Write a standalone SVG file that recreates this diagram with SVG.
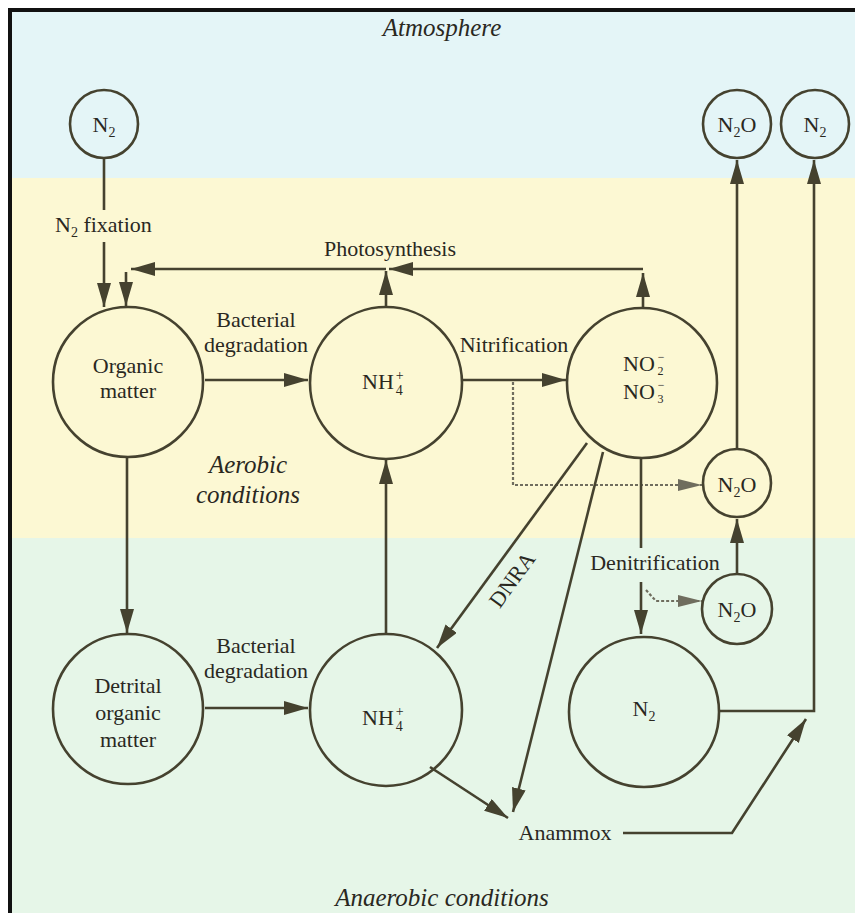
<svg xmlns="http://www.w3.org/2000/svg" width="855" height="913" viewBox="0 0 855 913">
<style>
.node{fill:none;stroke:#45422f;stroke-width:2.6}
.ln{fill:none;stroke:#45422f;stroke-width:2.6}
.dot{fill:none;stroke:#6f6d5e;stroke-width:2.2;stroke-dasharray:3 2}
text{font-family:"Liberation Serif","Times New Roman",serif;font-size:22px;fill:#2a281f}
.it{font-style:italic;font-size:25px}
.c{text-anchor:middle}
.sm{font-size:14px}
.xs{font-size:12px}
</style>
<defs>
<marker id="ah" markerUnits="userSpaceOnUse" markerWidth="26" markerHeight="16" refX="24" refY="7" orient="auto">
<path d="M0,0 L24,7 L0,14 z" fill="#45422f"/>
</marker>
<marker id="ahg" markerUnits="userSpaceOnUse" markerWidth="26" markerHeight="16" refX="24" refY="7" orient="auto">
<path d="M0,1 L24,7 L0,13 z" fill="#6f6d5e"/>
</marker>
</defs>
<!-- background bands -->
<rect x="0" y="0" width="855" height="913" fill="#ffffff"/>
<rect x="10" y="10" width="845" height="168" fill="#e4f5f7"/>
<rect x="10" y="178" width="845" height="360" fill="#fcf8d3"/>
<rect x="10" y="538" width="845" height="375" fill="#e6f6e8"/>
<path d="M10,913 V10 H855" fill="none" stroke="#111" stroke-width="4"/>
<text class="it c" x="442" y="36">Atmosphere</text>
<text class="it c" x="248" y="473">Aerobic</text>
<text class="it c" x="248" y="503">conditions</text>
<text class="it c" x="442" y="906">Anaerobic conditions</text>

<g id="connectors">
<line class="ln" x1="104" y1="158" x2="104" y2="210"/>
<line class="ln" x1="104" y1="242" x2="104" y2="307" marker-end="url(#ah)"/>
<line class="ln" x1="643" y1="307" x2="643" y2="273" marker-end="url(#ah)"/>
<line class="ln" x1="643" y1="269" x2="389" y2="269" marker-end="url(#ah)"/>
<line class="ln" x1="386" y1="307" x2="386" y2="271" marker-end="url(#ah)"/>
<line class="ln" x1="386" y1="269" x2="131" y2="269" marker-end="url(#ah)"/>
<line class="ln" x1="126" y1="272" x2="126" y2="306" marker-end="url(#ah)"/>
<line class="ln" x1="205" y1="380" x2="308" y2="380" marker-end="url(#ah)"/>
<line class="ln" x1="462" y1="380" x2="566" y2="380" marker-end="url(#ah)"/>
<path class="dot" d="M513,382 V485 H702" marker-end="url(#ahg)"/>
<line class="ln" x1="641" y1="458" x2="641" y2="548"/>
<line class="ln" x1="641" y1="582" x2="641" y2="634" marker-end="url(#ah)"/>
<path class="dot" d="M646,590 L656,601 H702" marker-end="url(#ahg)"/>
<line class="ln" x1="737" y1="574" x2="737" y2="519" marker-end="url(#ah)"/>
<line class="ln" x1="737" y1="449" x2="737" y2="160" marker-end="url(#ah)"/>
<path class="ln" d="M719,711 H814 V160" marker-end="url(#ah)"/>
<line class="ln" x1="587" y1="443" x2="437" y2="648" marker-end="url(#ah)"/>
<line class="ln" x1="603" y1="452" x2="513" y2="812" marker-end="url(#ah)"/>
<line class="ln" x1="430" y1="767" x2="508" y2="818" marker-end="url(#ah)"/>
<path class="ln" d="M623,833 H732 L806,719" marker-end="url(#ah)"/>
<line class="ln" x1="127" y1="458" x2="127" y2="633" marker-end="url(#ah)"/>
<line class="ln" x1="205" y1="708" x2="308" y2="708" marker-end="url(#ah)"/>
<line class="ln" x1="386" y1="634" x2="386" y2="460" marker-end="url(#ah)"/>
</g>

<g id="labels">
<text x="55" y="232">N<tspan class="sm" dy="5">2</tspan><tspan dy="-5"> fixation</tspan></text>
<text class="c" x="390" y="256">Photosynthesis</text>
<text class="c" x="256" y="327">Bacterial</text>
<text class="c" x="256" y="352">degradation</text>
<text class="c" x="514" y="352">Nitrification</text>
<text class="c" x="655" y="570">Denitrification</text>
<text class="c" x="0" y="0" transform="translate(518,584) rotate(-54)">DNRA</text>
<text class="c" x="256" y="653">Bacterial</text>
<text class="c" x="256" y="678">degradation</text>
<text class="c" x="565" y="840">Anammox</text>
</g>

<g id="n2-atm">
<circle class="node" cx="104" cy="124" r="34"/>
<text class="c" x="104" y="132">N<tspan class="sm" dy="5">2</tspan></text>
</g>
<g id="n2o-atm">
<circle class="node" cx="737" cy="124" r="34"/>
<text class="c" x="737" y="132">N<tspan class="sm" dy="5">2</tspan><tspan dy="-5">O</tspan></text>
</g>
<g id="n2-atm-2">
<circle class="node" cx="815" cy="124" r="34"/>
<text class="c" x="815" y="132">N<tspan class="sm" dy="5">2</tspan></text>
</g>
<g id="organic-matter">
<circle class="node" cx="128" cy="382" r="75"/>
<text class="c" x="128" y="373">Organic</text>
<text class="c" x="128" y="398">matter</text>
</g>
<g id="nh4-aerobic">
<circle class="node" cx="386" cy="383" r="76"/>
<text x="362" y="389">NH<tspan class="sm" dx="2" dy="-9">+</tspan><tspan class="sm" dx="-8" dy="15">4</tspan></text>
</g>
<g id="no2-no3">
<circle class="node" cx="642" cy="383" r="75"/>
<text x="623" y="371">NO<tspan class="xs" dx="3" dy="-10">−</tspan><tspan class="xs" dx="-7" dy="14">2</tspan></text>
<text x="623" y="399">NO<tspan class="xs" dx="3" dy="-10">−</tspan><tspan class="xs" dx="-7" dy="14">3</tspan></text>
</g>
<g id="n2o-aerobic">
<circle class="node" cx="737" cy="483" r="34"/>
<text class="c" x="737" y="492">N<tspan class="sm" dy="5">2</tspan><tspan dy="-5">O</tspan></text>
</g>
<g id="n2o-anaerobic">
<circle class="node" cx="737" cy="609" r="35"/>
<text class="c" x="737" y="617">N<tspan class="sm" dy="5">2</tspan><tspan dy="-5">O</tspan></text>
</g>
<g id="detrital-organic-matter">
<circle class="node" cx="128" cy="709" r="75"/>
<text class="c" x="128" y="693">Detrital</text>
<text class="c" x="128" y="720">organic</text>
<text class="c" x="128" y="747">matter</text>
</g>
<g id="nh4-anaerobic">
<circle class="node" cx="386" cy="710" r="76"/>
<text x="362" y="725">NH<tspan class="sm" dx="2" dy="-9">+</tspan><tspan class="sm" dx="-8" dy="15">4</tspan></text>
</g>
<g id="n2-anaerobic">
<circle class="node" cx="644" cy="712" r="75"/>
<text class="c" x="644" y="716">N<tspan class="sm" dy="5">2</tspan></text>
</g>
</svg>
